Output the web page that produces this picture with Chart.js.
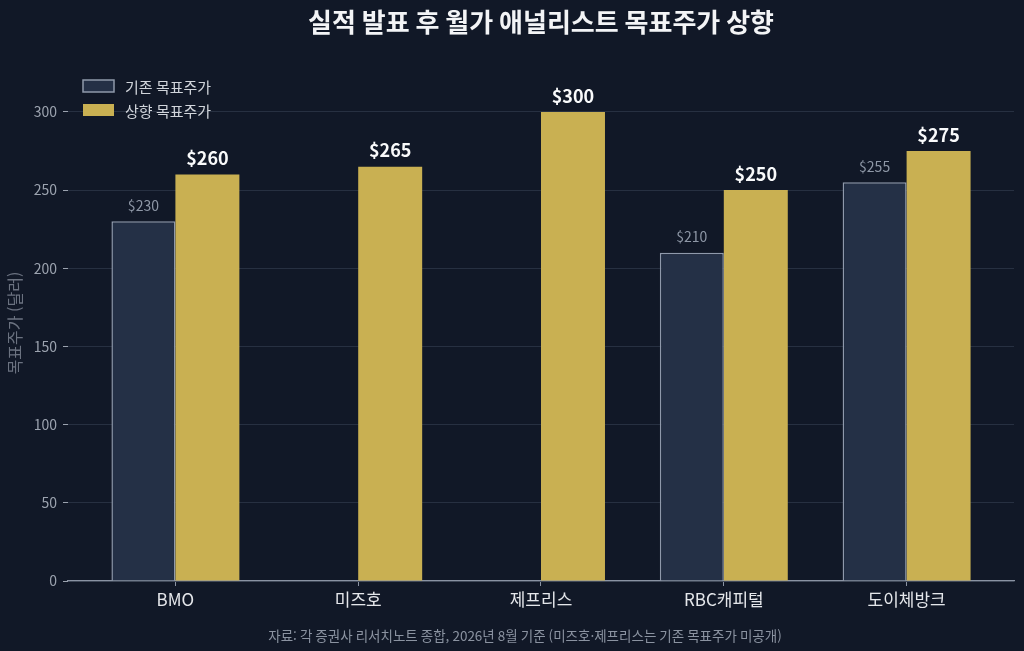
<!DOCTYPE html>
<html lang="ko">
<head>
<meta charset="utf-8">
<script src="https://cdn.jsdelivr.net/npm/chart.js@4.4.1/dist/chart.umd.min.js"></script>
<style>
  html, body { margin: 0; padding: 0; background: #111827; }
  #wrap { width: 1024px; height: 651px; position: relative; }
  canvas { display: block; }
</style>
</head>
<body>
<div id="wrap"><canvas id="c" width="1024" height="651"></canvas></div>
<script>
const categories = ['BMO', '미즈호', '제프리스', 'RBC캐피털', '도이체방크'];
const baseTargets = [230, null, null, 210, 255];
const raisedTargets = [260, 265, 300, 250, 275];
const seriesNames = ['기존 목표주가', '상향 목표주가'];
const yTicks = [0, 50, 100, 150, 200, 250, 300];
const titleText = '실적 발표 후 월가 애널리스트 목표주가 상향';
const yAxisTitle = '목표주가 (달러)';
const footerText = '자료: 각 증권사 리서치노트 종합, 2026년 8월 기준 (미즈호·제프리스는 기존 목표주가 미공개)';

const FONT = "'Noto Sans CJK KR', 'Noto Sans', sans-serif";
const BASE_FILL = '#243046';
const BASE_BORDER = '#8f99ab';
const GOLD = '#c9b052';

const toPoints = arr => arr.map((v, i) => ({ x: i, y: v }));

const decorPlugin = {
  id: 'decor',
  afterDatasetsDraw(chart) {
    const ctx = chart.ctx;
    ctx.save();
    chart.data.datasets.forEach((ds, di) => {
      const meta = chart.getDatasetMeta(di);
      meta.data.forEach((el, i) => {
        const v = ds.data[i].y;
        if (v === null || v === undefined) return;
        ctx.textAlign = 'center';
        ctx.textBaseline = 'bottom';
        if (di === 1) {
          ctx.font = 'bold 18px ' + FONT;
          ctx.fillStyle = '#f9fafb';
          ctx.fillText('$' + v, el.x, el.y - 7);
        } else {
          ctx.font = '14px ' + FONT;
          ctx.fillStyle = '#8e97a6';
          ctx.fillText('$' + v, el.x, el.y - 9);
        }
      });
    });
    ctx.restore();
  },
  afterDraw(chart) {
    const ctx = chart.ctx;
    ctx.save();
    ctx.font = 'bold 26px ' + FONT;
    ctx.fillStyle = '#f3f4f6';
    ctx.textAlign = 'center';
    ctx.textBaseline = 'middle';
    ctx.fillText(titleText, 541, 22);
    ctx.font = '13.5px ' + FONT;
    ctx.fillStyle = '#8b93a1';
    ctx.fillText(footerText, 525, 636);
    const items = [
      { fill: BASE_FILL, border: BASE_BORDER, y: 86 },
      { fill: GOLD, border: null, y: 110 }
    ];
    items.forEach((it, i) => {
      ctx.fillStyle = it.fill;
      ctx.fillRect(83, it.y - 6, 31, 12);
      if (it.border) {
        ctx.strokeStyle = it.border;
        ctx.lineWidth = 1.5;
        ctx.strokeRect(83, it.y - 6, 31, 12);
      }
      ctx.font = '15px ' + FONT;
      ctx.fillStyle = '#d1d5db';
      ctx.textAlign = 'left';
      ctx.textBaseline = 'middle';
      ctx.fillText(seriesNames[i], 125, it.y + 1);
    });
    ctx.restore();
  }
};

new Chart(document.getElementById('c'), {
  type: 'bar',
  data: {
    datasets: [
      {
        label: seriesNames[0],
        data: toPoints(baseTargets),
        backgroundColor: BASE_FILL,
        borderColor: BASE_BORDER,
        borderWidth: 1.5,
        categoryPercentage: 0.7,
        barPercentage: 1.0
      },
      {
        label: seriesNames[1],
        data: toPoints(raisedTargets),
        backgroundColor: GOLD,
        borderWidth: 0,
        categoryPercentage: 0.7,
        barPercentage: 1.0
      }
    ]
  },
  options: {
    responsive: false,
    animation: false,
    devicePixelRatio: 1,
    layout: { padding: { left: 0, right: 10, top: 65, bottom: 30 } },
    plugins: {
      legend: { display: false },
      title: { display: false },
      tooltip: { enabled: false }
    },
    scales: {
      x: {
        type: 'linear',
        offset: false,
        min: -0.5875,
        max: 4.5875,
        afterBuildTicks: s => { s.ticks = categories.map((_, i) => ({ value: i })); },
        afterFit: s => { s.height = 40; },
        ticks: {
          callback: v => categories[v],
          color: '#e5e7eb',
          font: { family: FONT, size: 17 },
          padding: 3,
          autoSkip: false,
          maxRotation: 0
        },
        grid: { display: true, offset: false, drawOnChartArea: false, tickLength: 5, tickColor: '#8a93a3', color: '#8a93a3' },
        border: { display: true, color: '#8a93a3', width: 1.2 }
      },
      y: {
        min: 0,
        max: 330,
        afterBuildTicks: s => { s.ticks = yTicks.map(v => ({ value: v })); },
        afterFit: s => { s.width = 68; },
        ticks: {
          color: '#9ca3af',
          font: { family: FONT, size: 14 },
          padding: 6
        },
        grid: { color: '#273041', lineWidth: 1, tickLength: 5, tickColor: '#9ca3af' },
        border: { display: false },
        title: {
          display: true,
          text: yAxisTitle,
          color: '#6b7280',
          font: { family: FONT, size: 16 },
          padding: { top: 5, bottom: 0 }
        }
      }
    }
  },
  plugins: [decorPlugin]
});
</script>
</body>
</html>
